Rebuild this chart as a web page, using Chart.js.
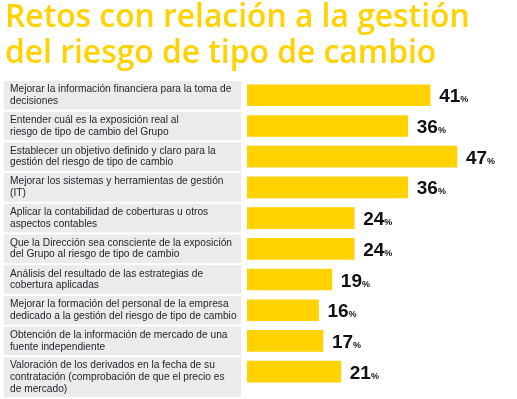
<!DOCTYPE html>
<html>
<head>
<meta charset="utf-8">
<script src="https://cdn.jsdelivr.net/npm/chart.js@4.4.0/dist/chart.umd.min.js"></script>
<style>
  html, body { margin: 0; padding: 0; background: #fff; }
  #wrap { width: 517px; height: 399px; }
</style>
</head>
<body>
<div id="wrap"><canvas id="grafico"></canvas></div>
<script>
// titulo
const titulo = ["Retos con relación a la gestión", "del riesgo de tipo de cambio"]

// categorias (cada una en lineas)
const retos = [
    ["Mejorar la información financiera para la toma de", "decisiones"],
    ["Entender cuál es la exposición real al", "riesgo de tipo de cambio del Grupo"],
    ["Establecer un objetivo definido y claro para la", "gestión del riesgo de tipo de cambio"],
    ["Mejorar los sistemas y herramientas de gestión", "(IT)"],
    ["Aplicar la contabilidad de coberturas u otros", "aspectos contables"],
    ["Que la Dirección sea consciente de la exposición", "del Grupo al riesgo de tipo de cambio"],
    ["Análisis del resultado de las estrategias de", "cobertura aplicadas"],
    ["Mejorar la formación del personal de la empresa", "dedicado a la gestión del riesgo de tipo de cambio"],
    ["Obtención de la información de mercado de una", "fuente independiente"],
    ["Valoración de los derivados en la fecha de su", "contratación (comprobación de que el precio es", "de mercado)"]
]

// porcentajes
const porcentajes = [41, 36, 47, 36, 24, 24, 19, 16, 17, 21]

const amarillo = "#FFD200"

// cajas grises y textos de las categorias
const cajasEtiquetas = {
    id: "cajasEtiquetas",
    beforeDatasetsDraw(chart) {
        const ctx = chart.ctx
        const y = chart.scales.y
        const n = retos.length
        const paso = (y.bottom - y.top) / n
        ctx.save()
        for (let i = 0; i < n; i++) {
            const centro = y.getPixelForTick(i)
            let arriba = centro - paso / 2 + 1
            let abajo = centro + paso / 2 - 1
            if (i === n - 1) abajo = chart.height - 2
            ctx.fillStyle = "#EBEBEB"
            ctx.fillRect(4, arriba, 237, abajo - arriba)

            const lineas = retos[i]
            const alto = 11.6
            const medio = (arriba + abajo) / 2
            ctx.fillStyle = "#1f2029"
            ctx.font = "10.2px 'Liberation Sans', Arial, sans-serif"
            ctx.textAlign = "left"
            ctx.textBaseline = "middle"
            lineas.forEach((linea, k) => {
                const ly = medio + (k - (lineas.length - 1) / 2) * alto
                ctx.fillText(linea, 10, ly)
            })
        }
        ctx.restore()
    }
}

// valores al final de cada barra
const etiquetasValor = {
    id: "etiquetasValor",
    afterDatasetsDraw(chart) {
        const ctx = chart.ctx
        const barras = chart.getDatasetMeta(0).data
        ctx.save()
        ctx.fillStyle = "#111111"
        ctx.textBaseline = "alphabetic"
        ctx.textAlign = "left"
        barras.forEach((barra, i) => {
            const x = barra.x + 9
            const yb = barra.y + 7
            ctx.font = "bold 19px 'Liberation Sans', Arial, sans-serif"
            const txt = String(porcentajes[i])
            ctx.fillText(txt, x, yb)
            const w = ctx.measureText(txt).width
            ctx.font = "bold 9px 'Liberation Sans', Arial, sans-serif"
            ctx.fillText("%", x + w, yb)
        })
        ctx.restore()
    }
}

const myChart = new Chart(document.getElementById("grafico").getContext("2d"), {
    type: "bar",
    data: {
        labels: retos,
        datasets: [
            {
                data: porcentajes,
                backgroundColor: amarillo,
                borderWidth: 0,
                barThickness: 21
            }
        ]
    },
    options: {
        indexAxis: "y",
        responsive: true,
        maintainAspectRatio: false,
        animation: false,
        layout: {
            padding: { left: 5, right: 2, top: 0, bottom: 12 }
        },
        plugins: {
            legend: { display: false },
            tooltip: { enabled: false },
            title: {
                display: true,
                text: titulo,
                align: "start",
                color: amarillo,
                font: { family: "'Open Sans', 'Liberation Sans', sans-serif", size: 31.8, weight: 600, lineHeight: 1.14 },
                padding: { top: 0, bottom: 7.4 }
            }
        },
        scales: {
            x: {
                display: false,
                min: 0,
                max: 60
            },
            y: {
                grid: { display: false },
                border: { display: false },
                ticks: { display: false },
                afterFit(scale) {
                    scale.width = 242
                }
            }
        }
    },
    plugins: [cajasEtiquetas, etiquetasValor]
})
</script>
</body>
</html>
